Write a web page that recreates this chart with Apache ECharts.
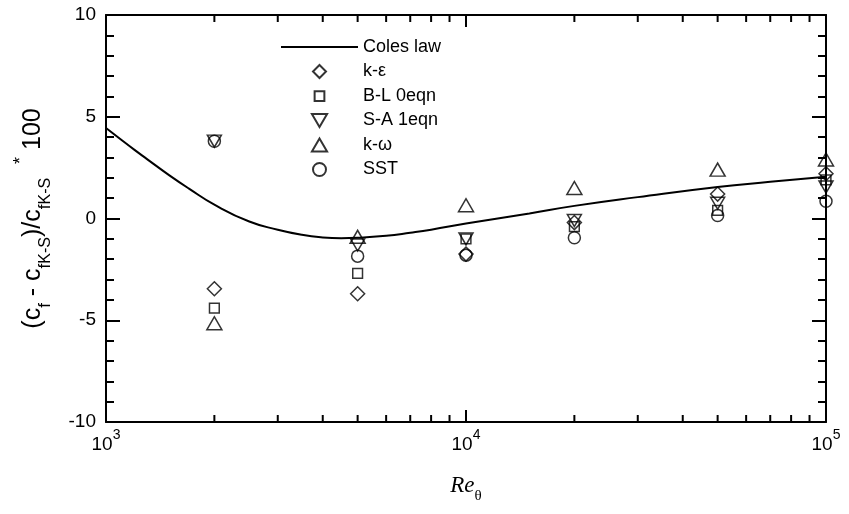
<!DOCTYPE html>
<html>
<head>
<meta charset="utf-8">
<script src="https://cdn.jsdelivr.net/npm/echarts@6/dist/echarts.min.js"></script>
<style>html,body{margin:0;padding:0;background:#fff}#c{width:849px;height:514px}</style>
</head>
<body>
<div id="c"></div>
<script>
// ---- data ----
const reTheta = [2000, 5000, 10000, 20000, 50000, 100000];
const kEps   = [-3.45, -3.7, -1.75, -0.2, 1.2, 2.2];
const bl0    = [-4.4, -2.7, -1.0, -0.4, 0.4, 1.9];
const sa1    = [3.8, -1.3, -1.0, -0.1, 0.75, 1.55];
const kOmega = [-5.15, -0.9, 0.65, 1.5, 2.4, 2.9];
const sst    = [3.8, -1.85, -1.8, -0.95, 0.15, 0.85];

const colesRe = [1000, 1100, 1200, 1300, 1500, 1700, 2000, 2500, 3000, 3500, 4000, 4500, 5000, 6000, 7000, 8000, 10000, 15000, 20000, 30000, 50000, 70000, 100000];
const colesCf = [4.45, 3.88, 3.37, 2.92, 2.12, 1.47, 0.68, -0.15, -0.55, -0.8, -0.93, -0.97, -0.95, -0.85, -0.7, -0.55, -0.25, 0.25, 0.62, 1.05, 1.55, 1.8, 2.05];

const minorXTicks = [2000, 3000, 4000, 5000, 6000, 7000, 8000, 9000, 20000, 30000, 40000, 50000, 60000, 70000, 80000, 90000];

const seriesNames = ['Coles law', 'k-\u03b5', 'B-L 0eqn', 'S-A 1eqn', 'k-\u03c9', 'SST'];

const pair = (xs, ys) => xs.map((x, i) => [x, ys[i]]);

const chart = echarts.init(document.getElementById('c'), null, {renderer: 'canvas'});
const FONT = 'Liberation Sans';
const hollow = {color: 'rgba(0,0,0,0)', borderColor: '#000', borderWidth: 1.5};

const scatter = (name, data, symbol, size) => ({
  name, type: 'scatter', data, symbol, symbolSize: size,
  itemStyle: hollow, z: 5,
  emphasis: {disabled: true}
});

const SYM_DIAMOND = 'path://M7,0L14,7L7,14L0,7Z';
const SYM_SQUARE = 'path://M0,0M12,12M1.5,1.5L10.5,1.5L10.5,10.5L1.5,10.5Z';
const SYM_TRI_DOWN = 'path://M0,0L14,0L7,12Z';
const SYM_TRI_UP = 'path://M7,0L14,12L0,12Z';

const option = {
  animation: false,
  backgroundColor: '#fff',
  grid: {left: 106, right: 23, top: 15, bottom: 92},
  legend: {
    orient: 'vertical', left: 280, top: 38, padding: 0,
    itemWidth: 77, itemHeight: 13, itemGap: 6.5, itemTextGap: 6,
    data: [
      {name: seriesNames[0], itemStyle: {color: 'rgba(0,0,0,0)', borderWidth: 0, opacity: 0}},
      seriesNames[1], seriesNames[2], seriesNames[3], seriesNames[4], seriesNames[5]
    ],
    textStyle: {fontFamily: FONT, fontSize: 18, color: '#000'},
    selectedMode: false
  },
  xAxis: [{
    type: 'log', logBase: 10, min: 1000, max: 100000,
    position: 'bottom',
    axisLine: {onZero: false, lineStyle: {color: '#000', width: 2}},
    axisTick: {inside: true, length: 12, lineStyle: {color: '#000', width: 2}},
    splitLine: {show: false},
    axisLabel: {
      margin: 6,
      formatter: v => '{b|10}{s|' + Math.round(Math.log10(v)) + '}',
      rich: {
        b: {fontFamily: FONT, fontSize: 19, color: '#000', lineHeight: 26, verticalAlign: 'bottom'},
        s: {fontFamily: FONT, fontSize: 14, color: '#000', lineHeight: 15, verticalAlign: 'top'}
      }
    },
    name: '{i|Re}{s|\u03b8}',
    nameLocation: 'middle', nameGap: 52,
    nameTextStyle: {
      rich: {
        i: {fontFamily: 'Liberation Serif', fontStyle: 'italic', fontSize: 23, color: '#000', lineHeight: 30, verticalAlign: 'top'},
        s: {fontFamily: 'Liberation Serif', fontSize: 15, color: '#000', lineHeight: 30, verticalAlign: 'bottom'}
      }
    }
  }, {
    type: 'log', logBase: 10, min: 1000, max: 100000,
    position: 'top',
    axisLine: {onZero: false, lineStyle: {color: '#000', width: 2}},
    axisTick: {inside: true, length: 12, lineStyle: {color: '#000', width: 2}},
    axisLabel: {show: false},
    splitLine: {show: false}
  }],
  yAxis: [{
    type: 'value', min: -10, max: 10, interval: 5,
    position: 'left',
    axisLine: {onZero: false, lineStyle: {color: '#000', width: 2}},
    axisTick: {inside: true, length: 14, lineStyle: {color: '#000', width: 2}},
    minorTick: {show: true, splitNumber: 5, length: 8, lineStyle: {color: '#000', width: 2}},
    splitLine: {show: false},
    axisLabel: {margin: 10, fontFamily: FONT, fontSize: 19, color: '#000'},
    name: '{b|(c}{s|f}{b| - c}{s|f}{ss|K-S}{b|)/c}{s|f}{ss|K-S}{b|  }{st|*}{b| 100}',
    nameLocation: 'middle', nameRotate: 90, nameGap: 52,
    nameTextStyle: {
      rich: {
        b: {fontFamily: FONT, fontSize: 25, color: '#000', lineHeight: 42},
        s: {fontFamily: FONT, fontSize: 17, color: '#000', lineHeight: 30, verticalAlign: 'bottom'},
        ss: {fontFamily: FONT, fontSize: 16, color: '#000', lineHeight: 20, verticalAlign: 'bottom'},
        st: {fontFamily: FONT, fontSize: 18, color: '#000', lineHeight: 22, verticalAlign: 'top'}
      }
    }
  }, {
    type: 'value', min: -10, max: 10, interval: 5,
    position: 'right',
    axisLine: {onZero: false, lineStyle: {color: '#000', width: 2}},
    axisTick: {inside: true, length: 14, lineStyle: {color: '#000', width: 2}},
    minorTick: {show: true, splitNumber: 5, length: 8, lineStyle: {color: '#000', width: 2}},
    splitLine: {show: false},
    axisLabel: {show: false}
  }],
  series: [
    {
      name: 'Coles law', type: 'line', data: pair(colesRe, colesCf),
      symbol: 'none', smooth: true,
      lineStyle: {color: '#000', width: 2},
      itemStyle: {color: '#000'},
      z: 4, emphasis: {disabled: true}
    },
    scatter('k-\u03b5', pair(reTheta, kEps), SYM_DIAMOND, 14),
    scatter('B-L 0eqn', pair(reTheta, bl0), SYM_SQUARE, 13),
    scatter('S-A 1eqn', pair(reTheta, sa1), SYM_TRI_DOWN, [14, 12]),
    scatter('k-\u03c9', pair(reTheta, kOmega), SYM_TRI_UP, [15, 13]),
    scatter('SST', pair(reTheta, sst), 'circle', 12),
    {
      name: 'minorTicks', type: 'custom', silent: true, z: 10,
      data: minorXTicks.map(v => [v]),
      renderItem: (params, api) => {
        const v = api.value(0);
        const b = api.coord([v, -10]);
        const t = api.coord([v, 10]);
        const st = {stroke: '#000', lineWidth: 2};
        return {
          type: 'group',
          children: [
            {type: 'line', shape: {x1: b[0], y1: b[1], x2: b[0], y2: b[1] - 7}, style: st},
            {type: 'line', shape: {x1: t[0], y1: t[1], x2: t[0], y2: t[1] + 7}, style: st}
          ]
        };
      }
    }
  ]
};
chart.setOption(option);
</script>
</body>
</html>
